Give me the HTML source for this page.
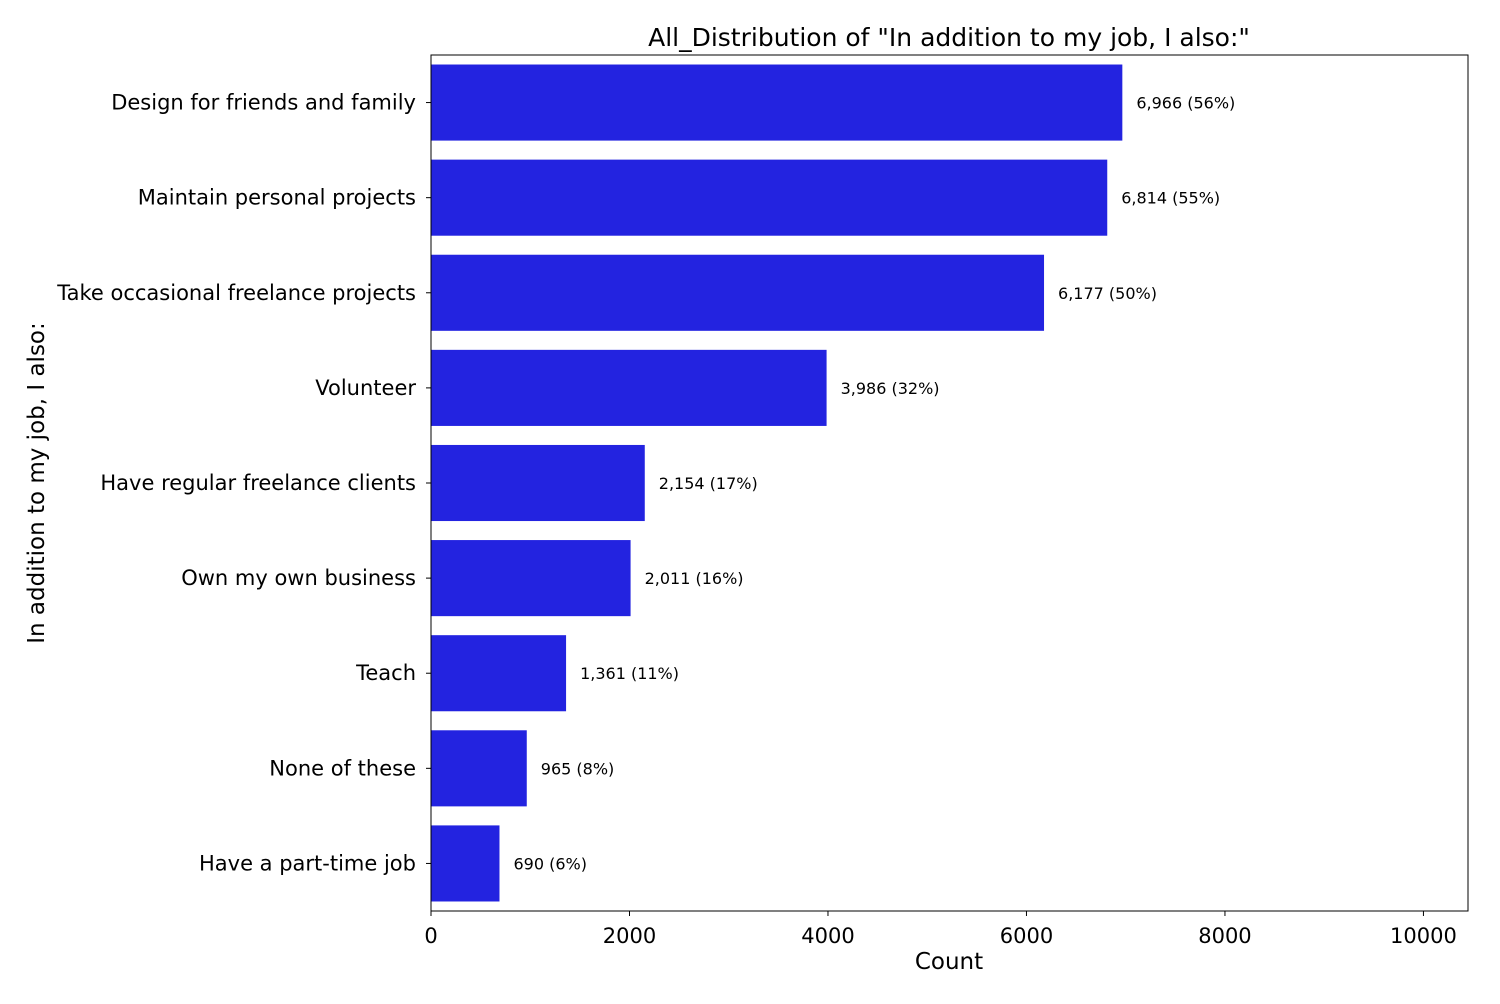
<!DOCTYPE html>
<html>
<head>
<meta charset="utf-8">
<style>
body{margin:0;background:#fff;font-family:"DejaVu Sans","Liberation Sans",sans-serif;}
svg text{font-family:"DejaVu Sans","Liberation Sans",sans-serif;}
</style>
</head>
<body>
<svg id="chart" width="1500" height="1000" xmlns="http://www.w3.org/2000/svg">
<rect width="1500" height="1000" fill="#fff"/>
<g id="bars"></g>
<g id="xticks"></g>
<g id="ylabels"></g>
<rect x="431" y="55" width="1037" height="856" fill="none" stroke="#000" stroke-width="1"/>
<text x="949" y="46" font-size="25" text-anchor="middle">All_Distribution of "In addition to my job, I also:"</text>
<text x="949" y="969" font-size="23" text-anchor="middle">Count</text>
<text transform="translate(44,483) rotate(-90)" font-size="23" text-anchor="middle">In addition to my job, I also:</text>
</svg>
<script>
const categories=["Design for friends and family","Maintain personal projects","Take occasional freelance projects","Volunteer","Have regular freelance clients","Own my own business","Teach","None of these","Have a part-time job"];
const counts=[6966,6814,6177,3986,2154,2011,1361,965,690];
const percents=[56,55,50,32,17,16,11,8,6];
const xTicks=[0,2000,4000,6000,8000,10000];
const NS="http://www.w3.org/2000/svg";
const pLeft=431,pRight=1468,pTop=55,pBottom=911;
const xMax=Math.max(...counts)*1.5;
const xs=v=>pLeft+(v/xMax)*(pRight-pLeft);
const band=(pBottom-pTop)/categories.length;
const yc=i=>pTop+band*(i+0.5);
const bh=band*0.8;
const barsG=document.getElementById('bars'),ylG=document.getElementById('ylabels'),xtG=document.getElementById('xticks');
function mk(tag,attrs,parent,txt){const e=document.createElementNS(NS,tag);for(const k in attrs)e.setAttribute(k,attrs[k]);if(txt!==undefined)e.textContent=txt;parent.appendChild(e);return e;}
categories.forEach((c,i)=>{
  const r=mk('rect',{x:pLeft,y:yc(i)-bh/2,width:xs(counts[i])-pLeft,height:bh,fill:'#2323e0'},barsG);
  
  
  const t=mk('text',{x:xs(counts[i])+14,y:yc(i)+6,'font-size':16},barsG,counts[i].toLocaleString('en-US')+' ('+percents[i]+'%)');
  
  
  mk('line',{x1:pLeft-5,x2:pLeft,y1:yc(i),y2:yc(i),stroke:'#000'},ylG);
  const l=mk('text',{x:pLeft-15,y:yc(i)+7,'font-size':21,'text-anchor':'end'},ylG,c);
  
  
});
xTicks.forEach(v=>{
  mk('line',{x1:xs(v),x2:xs(v),y1:pBottom,y2:pBottom+5,stroke:'#000'},xtG);
  const t=mk('text',{x:xs(v),y:pBottom+32,'font-size':21,'text-anchor':'middle'},xtG,String(v));
  
  
});
</script>
</body>
</html>
